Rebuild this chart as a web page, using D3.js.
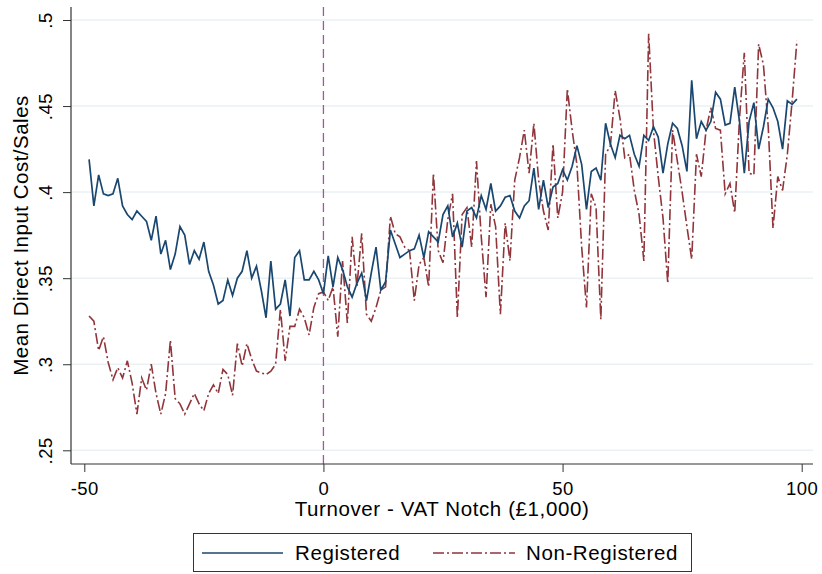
<!DOCTYPE html>
<html>
<head>
<meta charset="utf-8">
<script src="https://cdn.jsdelivr.net/npm/d3@7"></script>
<style>
  body { margin: 0; background: #fff; }
  svg { display: block; font-family: "Liberation Sans", Arial, sans-serif; }
</style>
</head>
<body>
<svg id="chart" width="822" height="574"></svg>
<script>
// turnover bins (£1,000 relative to the VAT notch)
const bins = d3.range(-49, 100);

const registered = [
  .419, .392, .410, .399, .398, .399, .408, .392, .387, .384,
  .389, .386, .383, .372, .386, .364, .372, .355, .364, .380,
  .375, .358, .366, .361, .371, .354, .346, .335, .337, .349,
  .340, .350, .354, .366, .350, .357, .343, .327, .360, .332,
  .335, .349, .328, .362, .366, .349, .349, .354, .349, .341,
  .363, .345, .362, .355, .345, .339, .347, .353, .337, .353,
  .368, .343, .348, .378, .370, .362, .364, .366, .367, .375,
  .362, .377, .374, .371, .387, .392, .374, .382, .368, .389,
  .391, .385, .398, .390, .405, .389, .392, .397, .398, .389,
  .385, .392, .395, .414, .390, .407, .391, .403, .405, .413,
  .407, .415, .427, .416, .390, .412, .414, .407, .440, .428,
  .420, .433, .431, .433, .422, .415, .433, .430, .438, .432,
  .411, .428, .440, .437, .427, .412, .465, .431, .441, .436,
  .441, .458, .454, .439, .440, .461, .441, .411, .441, .452,
  .425, .438, .454, .449, .441, .425, .453, .451, .454
];

const nonRegistered = [
  .328, .325, .308, .316, .301, .291, .298, .292, .302, .289,
  .271, .292, .285, .300, .283, .271, .283, .314, .280, .277,
  .271, .277, .283, .277, .273, .283, .288, .283, .297, .294,
  .282, .312, .299, .312, .303, .296, .295, .294, .296, .300,
  .332, .302, .322, .322, .332, .327, .317, .333, .341, .342,
  .337, .345, .316, .360, .324, .374, .345, .376, .329, .325,
  .333, .343, .345, .386, .376, .374, .368, .366, .337, .358,
  .362, .345, .411, .366, .359, .384, .399, .327, .387, .391,
  .368, .418, .374, .339, .393, .380, .329, .382, .360, .407,
  .420, .436, .411, .440, .407, .389, .378, .428, .385, .400,
  .460, .436, .416, .368, .333, .399, .391, .326, .422, .427,
  .459, .443, .420, .422, .401, .387, .360, .492, .436, .409,
  .385, .347, .436, .418, .400, .380, .361, .422, .409, .436,
  .449, .437, .436, .399, .405, .388, .443, .481, .411, .410,
  .486, .474, .438, .379, .409, .401, .422, .453, .488
];

const xTicks = [-50, 0, 50, 100];
const yTicks = [.25, .3, .35, .4, .45, .5];

const seriesNames = ['Registered', 'Non-Registered'];

const svg = d3.select('#chart');

const plot = { left: 71, right: 813, top: 7, bottom: 464 };

const x = d3.scaleLinear().domain([-50, 100]).range([84.3, 801.7]);
const y = d3.scaleLinear().domain([.25, .5]).range([450.3, 20]);

const navy = '#1a476f';
const maroon = '#90353b';

// gridlines
svg.append('g')
  .selectAll('line')
  .data(yTicks)
  .join('line')
  .attr('x1', plot.left)
  .attr('x2', plot.right)
  .attr('y1', d => y(d))
  .attr('y2', d => y(d))
  .attr('stroke', '#eaf2f3')
  .attr('stroke-width', 1.5);

// notch line
svg.append('line')
  .attr('x1', x(0)).attr('x2', x(0))
  .attr('y1', plot.top).attr('y2', plot.bottom)
  .attr('stroke', '#a552a8')
  .attr('stroke-width', 1.3)
  .attr('stroke-dasharray', '9,5');

const line = d3.line()
  .x((d, i) => x(bins[i]))
  .y(d => y(d));

svg.append('path')
  .datum(nonRegistered)
  .attr('d', line)
  .attr('fill', 'none')
  .attr('stroke', maroon)
  .attr('stroke-width', 1.6)
  .attr('stroke-dasharray', '11,3,2,3');

svg.append('path')
  .datum(registered)
  .attr('d', line)
  .attr('fill', 'none')
  .attr('stroke', navy)
  .attr('stroke-width', 1.7);

// axes
const xAxis = svg.append('g')
  .attr('transform', `translate(0,${plot.bottom})`)
  .call(d3.axisBottom(x).tickValues(xTicks).tickSize(8).tickSizeOuter(0)
    .tickFormat(d => String(d)));
xAxis.select('.domain').remove();
xAxis.selectAll('line').attr('stroke', '#333');
xAxis.selectAll('text')
  .attr('y', 31)
  .attr('dy', 0)
  .attr('fill', '#000')
  .style('font-size', '18.5px')
  .style('letter-spacing', '0.5px')
  .style('font-family', '"Liberation Sans", Arial, sans-serif');

const yAxis = svg.append('g')
  .attr('transform', `translate(${plot.left},0)`)
  .call(d3.axisLeft(y).tickValues(yTicks).tickSize(8).tickSizeOuter(0)
    .tickFormat(d => d3.format('.2~f')(d).replace(/^0/, '')));
yAxis.select('.domain').remove();
yAxis.selectAll('line').attr('stroke', '#333');
yAxis.selectAll('text')
  .attr('transform', 'rotate(-90)')
  .attr('text-anchor', 'middle')
  .attr('x', 0)
  .attr('y', -19)
  .attr('dy', 0)
  .attr('fill', '#000')
  .style('font-size', '18.5px')
  .style('letter-spacing', '0.5px')
  .style('font-family', '"Liberation Sans", Arial, sans-serif');

svg.append('line')
  .attr('x1', plot.left).attr('x2', plot.right)
  .attr('y1', plot.bottom).attr('y2', plot.bottom)
  .attr('stroke', '#333').attr('stroke-width', 1.2);
svg.append('line')
  .attr('x1', plot.left).attr('x2', plot.left)
  .attr('y1', plot.top).attr('y2', plot.bottom)
  .attr('stroke', '#333').attr('stroke-width', 1.2);

// titles
svg.append('text')
  .attr('x', (plot.left + plot.right) / 2)
  .attr('y', 516)
  .attr('text-anchor', 'middle')
  .style('font-size', '20.5px')
  .style('letter-spacing', '0.6px')
  .text('Turnover - VAT Notch (£1,000)');

svg.append('text')
  .attr('transform', `translate(28,${(plot.top + plot.bottom) / 2}) rotate(-90)`)
  .attr('text-anchor', 'middle')
  .style('font-size', '20.5px')
  .style('letter-spacing', '0.5px')
  .text('Mean Direct Input Cost/Sales');

// legend
const legend = svg.append('g');
legend.append('rect')
  .attr('x', 193.5).attr('y', 533.5)
  .attr('width', 498).attr('height', 38)
  .attr('fill', '#fff')
  .attr('stroke', '#333');

const legendItems = [
  { name: seriesNames[0], color: navy, dash: null, x0: 202, x1: 283, tx: 295 },
  { name: seriesNames[1], color: maroon, dash: '11,3,2,3', x0: 433, x1: 515, tx: 526 }
];
legendItems.forEach(it => {
  legend.append('line')
    .attr('x1', it.x0).attr('x2', it.x1)
    .attr('y1', 553).attr('y2', 553)
    .attr('stroke', it.color)
    .attr('stroke-width', 1.6)
    .attr('stroke-dasharray', it.dash);
  legend.append('text')
    .attr('x', it.tx).attr('y', 560)
    .style('font-size', '20.5px')
    .style('letter-spacing', '0.6px')
    .text(it.name);
});
</script>
</body>
</html>
